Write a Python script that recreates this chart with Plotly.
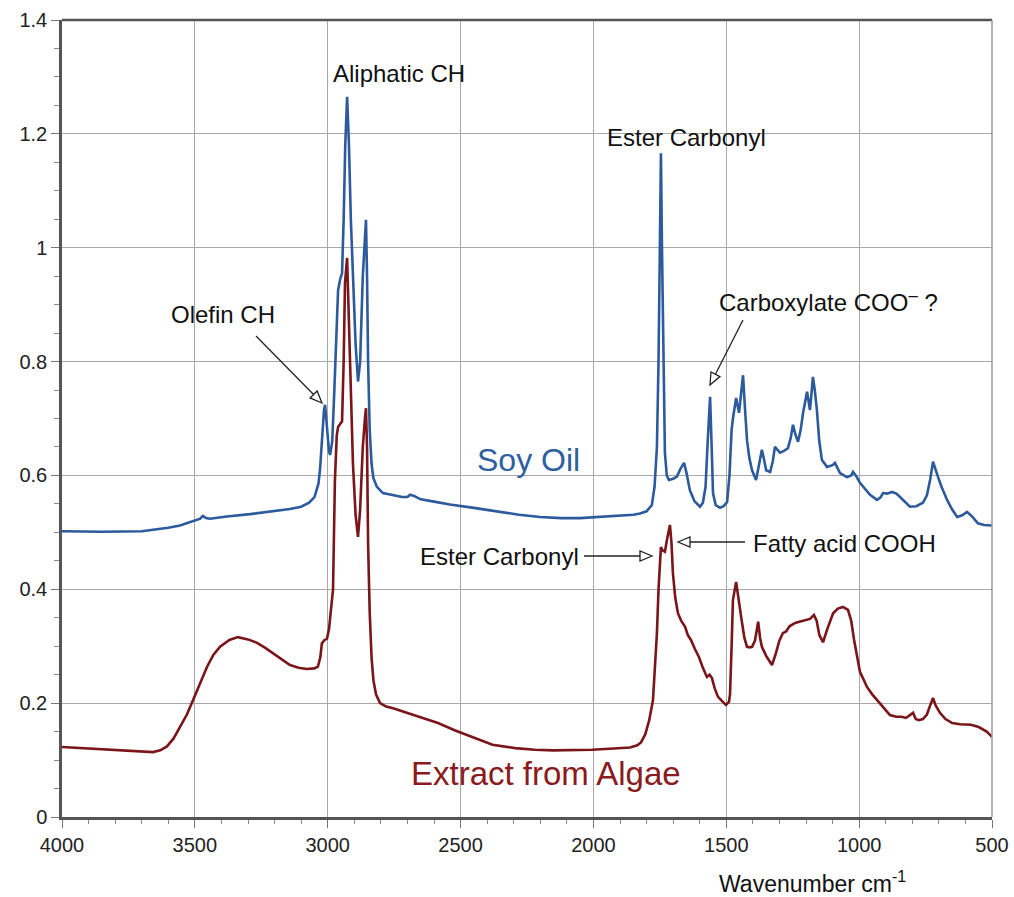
import plotly.graph_objects as go

# ---------------- data ----------------
soy_x = [4000, 3850, 3700, 3600, 3556, 3500, 3480, 3470, 3458, 3443, 3380, 3292, 3200, 3142, 3100, 3070,
         3050, 3035, 3029, 3022, 3014, 3010, 3003, 2995, 2991, 2983, 2975, 2968, 2961, 2953, 2946, 2940,
         2934, 2927, 2920, 2913, 2905, 2895, 2886, 2878, 2868, 2860, 2856, 2852, 2848, 2842, 2835, 2828,
         2815, 2792, 2760, 2720, 2700, 2690, 2675, 2650, 2600, 2540, 2450, 2352, 2280, 2201, 2120, 2051,
         1980, 1900, 1850, 1825, 1800, 1780, 1770, 1761, 1755, 1750, 1746, 1742, 1737, 1731, 1724, 1716,
         1700, 1686, 1672, 1659, 1650, 1637, 1620, 1599, 1588, 1578, 1570, 1561, 1555, 1550, 1540, 1524,
         1510, 1497, 1488, 1480, 1475, 1463, 1452, 1445, 1437, 1430, 1422, 1413, 1403, 1388, 1378, 1366,
         1358, 1350, 1335, 1325, 1317, 1308, 1298, 1283, 1268, 1258, 1249, 1240, 1230, 1220, 1211, 1196,
         1185, 1180, 1174, 1167, 1159, 1150, 1140, 1121, 1100, 1091, 1072, 1046, 1030, 1023, 1010, 997,
         980, 959, 933, 920, 910, 895, 876, 860, 846, 830, 809, 785, 760, 745, 733, 722,
         713, 703, 690, 669, 650, 631, 612, 594, 575, 553, 530, 500]
soy_y = [0.502, 0.501, 0.502, 0.508, 0.512, 0.520, 0.524, 0.529, 0.525, 0.524, 0.528, 0.532, 0.537, 0.541, 0.545, 0.552,
         0.562, 0.585, 0.610, 0.660, 0.715, 0.724, 0.680, 0.642, 0.636, 0.660, 0.750, 0.850, 0.925, 0.945, 0.955, 1.050,
         1.180, 1.265, 1.180, 1.050, 0.940, 0.830, 0.765, 0.800, 0.950, 1.030, 1.049, 0.950, 0.800, 0.680, 0.620, 0.595,
         0.580, 0.569, 0.566, 0.562, 0.562, 0.566, 0.564, 0.558, 0.554, 0.549, 0.543, 0.536, 0.531, 0.527, 0.525, 0.525,
         0.527, 0.530, 0.531, 0.533, 0.537, 0.548, 0.580, 0.650, 0.800, 1.000, 1.166, 1.000, 0.800, 0.640, 0.600, 0.592,
         0.594, 0.598, 0.612, 0.622, 0.605, 0.574, 0.555, 0.545, 0.552, 0.580, 0.660, 0.738, 0.650, 0.569, 0.548, 0.543,
         0.546, 0.553, 0.600, 0.680, 0.700, 0.736, 0.710, 0.740, 0.776, 0.720, 0.662, 0.630, 0.609, 0.592, 0.615, 0.645,
         0.628, 0.609, 0.606, 0.625, 0.650, 0.645, 0.640, 0.643, 0.648, 0.665, 0.689, 0.672, 0.659, 0.680, 0.710, 0.747,
         0.715, 0.740, 0.773, 0.750, 0.715, 0.660, 0.627, 0.615, 0.618, 0.622, 0.604, 0.597, 0.600, 0.606, 0.598, 0.587,
         0.577, 0.566, 0.557, 0.561, 0.569, 0.568, 0.571, 0.568, 0.562, 0.555, 0.545, 0.546, 0.552, 0.565, 0.592, 0.624,
         0.610, 0.597, 0.580, 0.557, 0.540, 0.527, 0.530, 0.536, 0.528, 0.516, 0.513, 0.512]

algae_x = [4000, 3900, 3831, 3700, 3658, 3630, 3605, 3580, 3556, 3530, 3507, 3480, 3454, 3430, 3405, 3370,
           3338, 3300, 3266, 3235, 3206, 3175, 3142, 3110, 3078, 3050, 3037, 3028, 3022, 3012, 3003, 2995,
           2985, 2980, 2973, 2966, 2961, 2953, 2946, 2940, 2935, 2927, 2922, 2916, 2905, 2895, 2886, 2878,
           2868, 2860, 2856, 2852, 2848, 2842, 2835, 2828, 2818, 2803, 2780, 2754, 2728, 2702, 2650, 2585,
           2520, 2438, 2380, 2295, 2220, 2152, 2080, 2005, 1940, 1862, 1835, 1821, 1805, 1790, 1776, 1768,
           1761, 1755, 1750, 1746, 1739, 1731, 1722, 1712, 1706, 1701, 1692, 1682, 1670, 1655, 1645, 1633,
           1618, 1603, 1588, 1573, 1563, 1554, 1543, 1531, 1515, 1501, 1490, 1486, 1480, 1475, 1463, 1455,
           1444, 1432, 1422, 1412, 1403, 1392, 1380, 1373, 1366, 1350, 1340, 1328, 1315, 1300, 1287, 1275,
           1262, 1241, 1225, 1200, 1185, 1170, 1160, 1150, 1136, 1120, 1098, 1080, 1061, 1042, 1030, 1019,
           1008, 997, 985, 970, 950, 925, 905, 884, 860, 840, 824, 810, 797, 787, 775, 760,
           745, 735, 722, 713, 696, 675, 650, 620, 579, 550, 520, 500]
algae_y = [0.123, 0.120, 0.118, 0.115, 0.114, 0.117, 0.124, 0.138, 0.158, 0.180, 0.205, 0.236, 0.264, 0.285, 0.299, 0.311,
           0.316, 0.312, 0.306, 0.297, 0.288, 0.278, 0.267, 0.262, 0.260, 0.261, 0.264, 0.280, 0.305, 0.311, 0.313, 0.330,
           0.370, 0.400, 0.590, 0.670, 0.685, 0.690, 0.695, 0.800, 0.938, 0.982, 0.900, 0.762, 0.620, 0.530, 0.492, 0.540,
           0.650, 0.700, 0.718, 0.650, 0.480, 0.360, 0.280, 0.240, 0.215, 0.200, 0.194, 0.191, 0.187, 0.184, 0.175, 0.165,
           0.152, 0.137, 0.127, 0.121, 0.118, 0.117, 0.117, 0.118, 0.120, 0.122, 0.126, 0.131, 0.145, 0.170, 0.205, 0.260,
           0.323, 0.400, 0.455, 0.474, 0.468, 0.466, 0.490, 0.513, 0.480, 0.429, 0.385, 0.358, 0.345, 0.334, 0.320, 0.311,
           0.295, 0.281, 0.262, 0.246, 0.250, 0.244, 0.225, 0.211, 0.203, 0.197, 0.202, 0.215, 0.300, 0.381, 0.413, 0.390,
           0.351, 0.315, 0.299, 0.298, 0.299, 0.310, 0.343, 0.315, 0.299, 0.283, 0.275, 0.267, 0.285, 0.310, 0.323, 0.326,
           0.335, 0.341, 0.343, 0.346, 0.348, 0.355, 0.345, 0.320, 0.307, 0.330, 0.358, 0.366, 0.369, 0.364, 0.345, 0.311,
           0.280, 0.255, 0.243, 0.228, 0.215, 0.202, 0.190, 0.179, 0.176, 0.176, 0.174, 0.178, 0.183, 0.172, 0.170, 0.172,
           0.180, 0.193, 0.209, 0.197, 0.183, 0.172, 0.165, 0.163, 0.162, 0.158, 0.150, 0.141]

x_range = [4000, 500]
y_range = [0, 1.4]

# ---------------- figure geometry ----------------
W, H = 1014, 897
ML, MR, MT, MB = 62, 22, 20, 80
KX = (W - ML - MR) / (x_range[0] - x_range[1])
KY = (H - MT - MB) / (y_range[1] - y_range[0])


def px2x(px):
    return x_range[0] - (px - ML) / KX


def py2y(py):
    return y_range[0] + (H - MB - py) / KY


BLUE = "#2c5a9c"
RED = "#7a1519"
FONT = "Liberation Sans, Arial, Helvetica, sans-serif"

fig = go.Figure()
fig.add_trace(go.Scatter(x=soy_x, y=soy_y, mode="lines", line=dict(color=BLUE, width=2.6),
                         name="Soy Oil", hoverinfo="skip"))
fig.add_trace(go.Scatter(x=algae_x, y=algae_y, mode="lines", line=dict(color=RED, width=2.6),
                         name="Extract from Algae", hoverinfo="skip"))

annotations = []


def label(text, px, py, size=24, color="#111", xanchor="center"):
    annotations.append(dict(x=px2x(px), y=py2y(py), xref="x", yref="y", text=text, showarrow=False,
                            xanchor=xanchor, yanchor="middle",
                            font=dict(family=FONT, size=size, color=color)))


label("Aliphatic CH", 399, 73)
label("Ester Carbonyl", 686, 137)
label("Olefin CH", 223, 314)
label("Carboxylate COO<sup>\u2013</sup> ?", 717, 301, xanchor="left")
label("Soy Oil", 528, 460, size=32, color="#2e5f9e")
label("Extract from Algae", 546, 773, size=33, color="#8a1a20")
label("Ester Carbonyl", 581, 556, xanchor="right")
label("Fatty acid COOH", 751, 543, xanchor="left")

annotations.append(dict(x=(812 - ML) / (W - ML - MR), y=-(882 - (H - MB)) / (H - MT - MB),
                        xref="paper", yref="paper", text="Wavenumber cm<sup>-1</sup>", showarrow=False,
                        xanchor="center", yanchor="middle", font=dict(family=FONT, size=23, color="#111")))

shapes = []


def arrow(tail, tip, L=12, HW=5):
    tx, ty = tail
    hx, hy = tip
    dx, dy = hx - tx, hy - ty
    n = (dx * dx + dy * dy) ** 0.5
    ux, uy = dx / n, dy / n
    bx, by = hx - ux * L, hy - uy * L
    nx, ny = -uy, ux
    shapes.append(dict(type="line", xref="x", yref="y", x0=px2x(tx), y0=py2y(ty), x1=px2x(bx), y1=py2y(by),
                       line=dict(color="#222", width=1.3)))
    p1 = (px2x(hx), py2y(hy))
    p2 = (px2x(bx + nx * HW), py2y(by + ny * HW))
    p3 = (px2x(bx - nx * HW), py2y(by - ny * HW))
    path = "M{},{} L{},{} L{},{} Z".format(p1[0], p1[1], p2[0], p2[1], p3[0], p3[1])
    shapes.append(dict(type="path", xref="x", yref="y", path=path, fillcolor="white",
                       line=dict(color="#222", width=1.3)))


arrow((256, 336), (322, 403))
arrow((743, 320), (710, 385))
arrow((584, 556), (652, 556))
arrow((745, 542), (678, 542))

# top border and right edge
shapes.append(dict(type="line", xref="paper", yref="paper", x0=0, x1=1, y0=1, y1=1,
                   line=dict(color="#555", width=2.5)))
shapes.append(dict(type="line", xref="paper", yref="paper", x0=1, x1=1, y0=0, y1=1,
                   line=dict(color="#999", width=1.5)))

fig.update_layout(
    width=W, height=H,
    margin=dict(l=ML, r=MR, t=MT, b=MB, autoexpand=False),
    paper_bgcolor="white", plot_bgcolor="white",
    showlegend=False,
    annotations=annotations,
    shapes=shapes,
    font=dict(family=FONT, size=20, color="#222"),
)
fig.update_xaxes(range=x_range, autorange=False, dtick=500, tick0=0, automargin=False,
                 showgrid=True, gridcolor="#a8a8a8", gridwidth=1.3,
                 showline=True, linecolor="#555", linewidth=2.5,
                 ticks="outside", ticklen=8, tickwidth=1.2, tickcolor="#777",
                 tickfont=dict(family=FONT, size=20, color="#222"),
                 minor=dict(dtick=100, ticks="outside", ticklen=4, tickwidth=1, tickcolor="#888", showgrid=False),
                 zeroline=False)
fig.update_yaxes(range=y_range, autorange=False, dtick=0.2, tick0=0, automargin=False,
                 showgrid=True, gridcolor="#a8a8a8", gridwidth=1.3,
                 showline=True, linecolor="#555", linewidth=2.5,
                 ticks="outside", ticklen=8, tickwidth=1.2, tickcolor="#777",
                 tickfont=dict(family=FONT, size=20, color="#222"),
                 minor=dict(dtick=0.05, ticks="outside", ticklen=5, tickwidth=1, tickcolor="#888", showgrid=False),
                 zeroline=False)

fig.write_html("out.html")
